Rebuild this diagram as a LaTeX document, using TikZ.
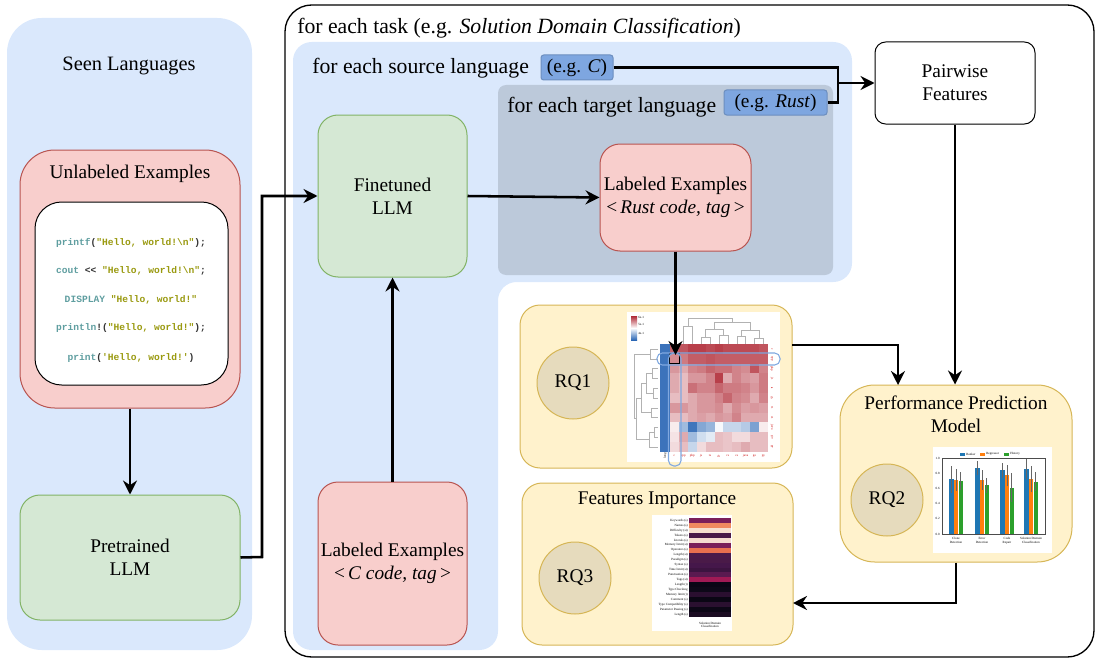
\documentclass[tikz,border=0pt]{standalone}
\usepackage{fontspec}
\setmainfont{Liberation Serif}
\setmonofont{Liberation Mono}
\usetikzlibrary{arrows.meta,calc}
\definecolor{blueBg}{HTML}{DAE8FC}
\definecolor{pinkF}{HTML}{F8CECC}
\definecolor{pinkS}{HTML}{B85450}
\definecolor{greenF}{HTML}{D5E8D4}
\definecolor{greenS}{HTML}{82B366}
\definecolor{yelF}{HTML}{FFF2CC}
\definecolor{yelS}{HTML}{D6B656}
\definecolor{grayT}{HTML}{BCC9DA}
\definecolor{egF}{HTML}{7EA6E0}
\definecolor{egS}{HTML}{6C8EBF}
\definecolor{circF}{HTML}{E6DBBD}
\definecolor{kwC}{HTML}{5F9EA0}
\definecolor{strC}{HTML}{9A9A10}
\definecolor{punC}{HTML}{333333}
\definecolor{hred}{HTML}{B02A36}
\definecolor{hblue}{HTML}{2B67B5}
\definecolor{hlblue}{HTML}{7FA8E0}
\definecolor{mplB}{HTML}{1F77B4}
\definecolor{mplO}{HTML}{FF7F0E}
\definecolor{mplG}{HTML}{2CA02C}
\newcommand\mysz{\fontsize{14.5}{17}\selectfont}
\newcommand\hdsz{\fontsize{16.3}{19}\selectfont}
\newcommand\seensz{\fontsize{15.3}{18}\selectfont}
\newcommand\tinysz{\fontsize{2.4}{2.8}\selectfont}
\newcommand\codesz{\fontsize{7.2}{9}\selectfont\ttfamily\bfseries}
\tikzset{
  wh/.style 2 args={minimum width={#1*0.75pt}, minimum height={#2*0.75pt}},
  box/.style={inner sep=0pt, align=center, font=\mysz, line width=0.75pt},
  pinkbox/.style={box, fill=pinkF, draw=pinkS, rounded corners=15pt},
  greenbox/.style={box, fill=greenF, draw=greenS, rounded corners=15pt},
  yelbox/.style={box, fill=yelF, draw=yelS, rounded corners=15pt},
  egbox/.style={box, fill=egF, draw=egS, rounded corners=2pt},
  rqc/.style={circle, fill=circF, draw=yelS, line width=0.75pt, minimum size=54pt, inner sep=0pt, font=\mysz},
  lbl/.style={inner sep=0pt, font=\mysz},
  hdl/.style={inner sep=0pt, font=\hdsz, anchor=west},
  codetxt/.style={inner sep=0pt, font=\codesz, text=punC},
  conn/.style={line width=1.9pt, black},
  arr/.style={conn, -{Stealth[length=10.5pt,width=10.5pt,inset=3.5pt]}},
  tiny/.style={inner sep=0pt, font=\tinysz},
  dend/.style={line width=0.3pt, black!30},
}
\begin{document}
\begin{tikzpicture}[x=0.75pt,y=-0.75pt]
\useasboundingbox (0,0) rectangle (1096,660);
% ---------- left panel ----------
\fill[blueBg, rounded corners=26pt] (7,18) rectangle (252,650);
\node[inner sep=0pt, font=\seensz] (seen) at (129,66) {Seen Languages};
\node[pinkbox, rounded corners=26pt, wh={220}{258}] (ue) at (130,279) {};
\node[lbl] (uelbl) at (130,174) {Unlabeled Examples};
\node[box, fill=white, draw=black, rounded corners=20pt, wh={193}{183}] (code) at (131.5,293.5) {};
\node[codetxt] (c1) at (131,243) {\textcolor{kwC}{printf}(\textcolor{strC}{"Hello, world!\textbackslash n"});};
\node[codetxt] (c2) at (131,271) {\textcolor{kwC}{cout} << \textcolor{strC}{"Hello, world!\textbackslash n"};};
\node[codetxt] (c3) at (131,300) {\textcolor{kwC}{DISPLAY} \textcolor{strC}{"Hello, world!"}};
\node[codetxt] (c4) at (131,328) {\textcolor{kwC}{println}!(\textcolor{strC}{"Hello, world!"});};
\node[codetxt] (c5) at (131,358) {\textcolor{kwC}{print}(\textcolor{strC}{'Hello, world!'})};
\node[greenbox, wh={220}{125}] (pt) at (130,557.5) {Pretrained\\LLM};
% ---------- task frame ----------
\draw[line width=1pt, rounded corners=20pt] (285,5) rectangle (1094,657);
\node[hdl] (task) at (297,28) {for each task (e.g. \textit{Solution Domain Classification})};
\fill[blueBg, rounded corners=14pt] (293,42) -- (852,42) -- (852,282) -- (498,282) -- (498,650) -- (293,650) -- cycle;
\node[hdl] (src) at (312,68) {for each source language};
\node[egbox, wh={72}{25}] (egc) at (577,67.5) {(e.g. \textit{C})};
\fill[grayT, rounded corners=6pt] (498,85) rectangle (833,275);
\node[hdl] (tgt) at (507,107) {for each target language};
\node[egbox, wh={103}{25}] (egr) at (775.5,102.5) {(e.g. \textit{Rust})};
\node[greenbox, wh={149}{162}] (ft) at (392.5,196) {Finetuned\\LLM};
\node[pinkbox, wh={151}{107}] (lr) at (675.5,197.5) {Labeled Examples\\<\,\textit{Rust code, tag}\,>};
\node[pinkbox, wh={149}{163}] (lc) at (392.5,563.5) {Labeled Examples\\<\,\textit{C code, tag}\,>};
\node[box, fill=white, draw=black, rounded corners=8pt, wh={160}{82}] (pair) at (955,83) {Pairwise\\Features};
% ---------- RQ1 ----------
\node[yelbox, wh={272}{163}] (rq1box) at (656,386.5) {};
\node[rqc] (rq1) at (573,383) {RQ1};
\fill[white] (627,312) rectangle (780,462);
\shade[top color=hred, bottom color=hblue, middle color=white] (631,316) rectangle (637,340);
\node[tiny, anchor=west] (cb1) at (638,317) {6e-1};
\node[tiny, anchor=west] (cb2) at (638,324) {5e-1};
\node[tiny, anchor=west] (cb3) at (638,333) {4e-1};
% top dendrogram
\draw[dend] (683.35,344) |- (692.25,326) -- (692.25,344);
\draw[dend] (687.8,326) |- (714.5,318);
\draw[dend] (701.15,344) |- (710.05,337) -- (710.05,344);
\draw[dend] (718.95,344) |- (727.85,335) -- (727.85,344);
\draw[dend] (705.6,337) |- (723.4,329) -- (723.4,335);
\draw[dend] (736.75,344) |- (745.65,336) -- (745.65,344);
\draw[dend] (754.55,344) |- (763.45,338) -- (763.45,344);
\draw[dend] (741.2,336) |- (759,330) -- (759,338);
\draw[dend] (714.5,329) |- (750.1,322) -- (750.1,330);
\draw[dend] (732.3,322) -- (732.3,318) -- (714.5,318);
% left dendrogram
\draw[dend] (658,348.9) -| (650,358.7) -- (658,358.7);
\draw[dend] (658,368.5) -| (652,378.3) -- (658,378.3);
\draw[dend] (658,388.1) -| (653,397.9) -- (658,397.9);
\draw[dend] (652,373.4) -| (646,393) -- (653,393);
\draw[dend] (658,407.7) -| (651,417.5) -- (658,417.5);
\draw[dend] (646,383.2) -| (641,412.6) -- (651,412.6);
\draw[dend] (658,427.3) -| (654,437.1) -- (658,437.1);
\draw[dend] (654,432.2) -| (649,446.9) -- (658,446.9);
\draw[dend] (641,397.9) -| (636,439.5) -- (649,439.5);
\draw[dend] (650,353.8) -| (634,418) -- (636,418);
% heatmap cells
\fill[hblue!92!white] (660,344) rectangle (670,451.8);
\foreach \row [count=\i] in {
 {.8,.9,1,1,.95,1,.95,.95,.95,.95,.9},
 {.6,.7,.85,.85,.9,.85,.85,.85,.85,.85,.85},
 {.55,.45,.65,.7,.8,.75,.75,.65,.6,.9,.65},
 {.45,.35,.55,.55,.65,1,.45,.65,.55,.5,.7},
 {.45,.35,.75,.65,.65,.8,.7,.7,.65,.55,.7},
 {.35,.35,.45,.55,.55,.65,.8,.65,.6,.45,.65},
 {.55,.55,.45,.55,.55,.6,.45,.6,.5,.55,.5},
 {.35,.35,.45,.5,.45,.55,.5,.65,.45,.45,.45},
 {.1,-.5,-1,-.65,-.55,-.05,-.3,-.3,-.4,-.7,.1},
 {.15,.45,-.5,-.25,-.15,.35,.3,.2,.2,.35,.35},
 {.2,.35,-.3,.2,.35,.35,.3,.35,.45,.35,.35}} {
  \foreach \v [count=\j] in \row {
    \pgfmathtruncatemacro\pc{abs(\v)*90}
    \pgfmathsetmacro\xa{670+(\j-1)*8.9}
    \pgfmathsetmacro\ya{344+(\i-1)*9.8}
    \ifdim \v pt < 0pt \def\cc{hblue}\else\def\cc{hred}\fi
    \fill[fill=\cc!\pc!white] (\xa,\ya) rectangle ++(8.9,9.8);
  }
}
\foreach \tl [count=\j] in {c,cpp,php,js,ts,rb,rs,cs,java,go,py} {
  \node[tiny, text=red!80!black] (hb\j) at ({665.55+\j*8.9},456) {\tl};
  \node[tiny, text=red!80!black, rotate=-90] (hr\j) at (772,{339.1+\j*9.8}) {\tl};
}
\node[tiny, rotate=90] (hb0) at (665,456) {lang};
\draw[line width=0.9pt] (669.5,353.2) rectangle (679.4,363.6);
\draw[hlblue, line width=0.8pt, rounded corners=4pt] (657,353) rectangle (780,365);
\draw[hlblue, line width=0.8pt, rounded corners=4pt] (668.5,353) rectangle (681,466);
\coordinate (hcell) at (675.5,355);
% ---------- Performance prediction ----------
\node[yelbox, rounded corners=26pt, wh={232}{177}] (perf) at (956,473.5) {};
\node[lbl, align=center, anchor=north] (perflbl) at (956,396) {Performance Prediction\\Model};
\node[rqc] (rq2) at (887,500) {RQ2};
\fill[white] (933,447) rectangle (1052,553);
\draw[line width=0.3pt, black!70] (942,458) rectangle (1045,534);
\foreach \tl [count=\k] in {0.0,0.2,0.4,0.6,0.8,1.0} {
  \node[tiny, anchor=east] (yt\k) at (940,{534-(\k-1)*15.2}) {\tl};
}
\foreach \c/\a/\b/\d/\ea/\eb/\ed [count=\k] in
  {956/.72/.71/.70/.18/.14/.12, 982/.87/.71/.64/.09/.13/.10,
   1007/.84/.77/.61/.10/.14/.19, 1031/.86/.72/.69/.13/.17/.12} {
  \fill[mplB] ({\c-7},534) rectangle ({\c-2.5},{534-\a*76});
  \fill[mplO] ({\c-2.25},534) rectangle ({\c+2.25},{534-\b*76});
  \fill[mplG] ({\c+2.5},534) rectangle ({\c+7},{534-\d*76});
  \draw[black!60, line width=0.5pt] ({\c-4.75},{534-\a*76+\ea*76}) -- ({\c-4.75},{534-\a*76-\ea*76});
  \draw[black!60, line width=0.5pt] (\c,{534-\b*76+\eb*76}) -- (\c,{534-\b*76-\eb*76});
  \draw[black!60, line width=0.5pt] ({\c+4.75},{534-\d*76+\ed*76}) -- ({\c+4.75},{534-\d*76-\ed*76});
}
\node[tiny, align=center, anchor=north] (xl1) at (956,537) {Clone\\Detection};
\node[tiny, align=center, anchor=north] (xl2) at (982,537) {Error\\Detection};
\node[tiny, align=center, anchor=north] (xl3) at (1007,537) {Code\\Repair};
\node[tiny, align=center, anchor=north] (xl4) at (1031,537) {Solution Domain\\Classification};
\fill[mplB] (960,452.5) rectangle (965,455.5);
\node[tiny, anchor=west] (lg1) at (966,454) {Ranker};
\fill[mplO] (980,452.5) rectangle (985,455.5);
\node[tiny, anchor=west] (lg2) at (986,454) {Regressor};
\fill[mplG] (1004,452.5) rectangle (1009,455.5);
\node[tiny, anchor=west] (lg3) at (1010,454) {History};
% ---------- RQ3 ----------
\node[yelbox, wh={271}{162}] (rq3box) at (657.5,564) {};
\node[lbl] (fi) at (657,500) {Features Importance};
\node[rqc] (rq3) at (575,578) {RQ3};
\fill[white] (652,515) rectangle (732,631);
\foreach \nm/\col [count=\k] in {
 Keywords (s)/7B1F5A, Names (s)/F08A60, Difficulty (st)/F6E0D0, Tokens (s)/4A1A4A,
 Literals (s)/F5DCD0, Memory limit (st)/7A1F5A, Operators (s)/E8704F, Length (st)/4A1A4A,
 Paradigm (s)/4A1A48, Syntax (s)/45174A, Time limit (st)/3C1440, Punctuation (s)/5A1A50,
 Tags (st)/A01A55, Length (t)/0A0515, Type Checking/0D0818, Memory limit (t)/2A0F30,
 Comment (s)/0A0614, Type Compatibility (s)/2A1030, Parameter Passing (s)/0C0716, Length (s)/1A0C22} {
  \definecolor{fc}{HTML}{\col}
  \fill[fc] (689,{518+\k*4.95-4.95}) rectangle (731,{518+\k*4.95});
  \node[tiny, anchor=east] (fl\k) at (688,{515.5+\k*4.95}) {\nm};
}
\node[tiny, align=center] (fcap) at (710,625) {Solution Domain\\Classification};
% ---------- connectors ----------
\coordinate (jn) at (838,83);
\coordinate (elb) at (262,557);
\coordinate (rq1out) at (792,345);
\coordinate (perfin) at (898,385);
\coordinate (rq3in) at (793,603);
\draw[arr] (ue.south) -- (pt.north);
\draw[arr] (pt.east) -- (elb) |- (ft.west);
\draw[arr] (lc.north) -- (ft.south);
\draw[arr] (ft.east) -- (lr.west);
\draw[arr] (lr.south) -- (hcell);
\draw[conn] (egr.east) -| (jn);
\draw[arr] (egc.east) -| (jn) -- (pair.west |- jn);
\draw[arr] (pair.south) -- (pair.south |- perf.north);
\draw[arr] (rq1out) -| (perfin);
\draw[arr] (perf.south) |- (rq3in);
\end{tikzpicture}
\end{document}
